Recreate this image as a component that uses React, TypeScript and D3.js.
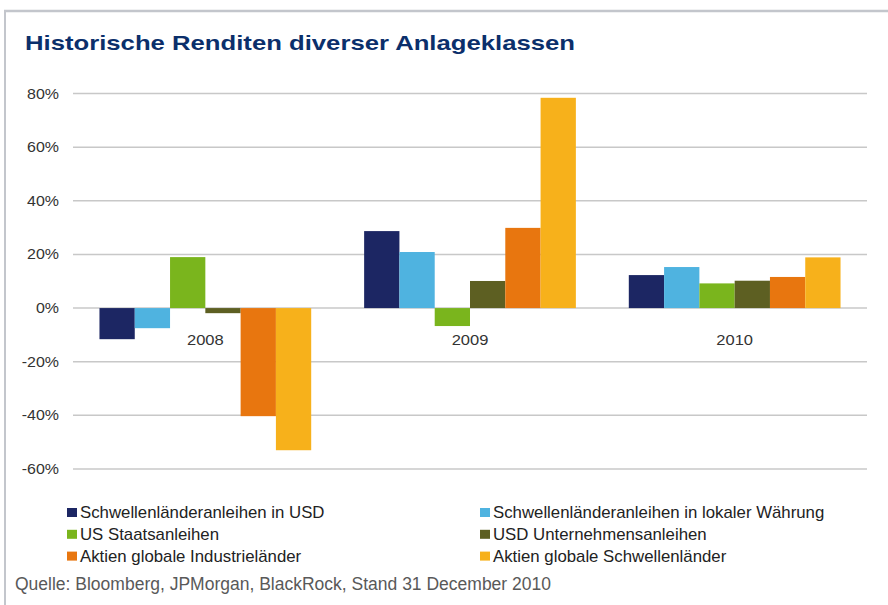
import * as d3 from 'd3';

const years = ['2008', '2009', '2010'];
const seriesNames = [
  'Schwellenländeranleihen in USD',
  'Schwellenländeranleihen in lokaler Währung',
  'US Staatsanleihen',
  'USD Unternehmensanleihen',
  'Aktien globale Industrieländer',
  'Aktien globale Schwellenländer',
];
const seriesColors = ['#1c2663', '#4fb3e0', '#7ab51d', '#5d5f22', '#e8760f', '#f7b11b'];
// values per series, one entry per year (percent)
const emUsd = [-11.6, 28.7, 12.3];
const emLocal = [-7.5, 20.9, 15.3];
const usTreasury = [19, -6.7, 9.2];
const usdCorporate = [-1.9, 10.1, 10.2];
const devEquity = [-40.3, 29.9, 11.6];
const emEquity = [-53, 78.4, 18.9];
const seriesValues = [emUsd, emLocal, usTreasury, usdCorporate, devEquity, emEquity];
const yTickValues = [80, 60, 40, 20, 0, -20, -40, -60];

export default function App() {
  const width = 888;
  const height = 605;
  const plot = { left: 73, right: 867, top: 93.5, bottom: 469 };

  const x0 = d3.scaleBand().domain(years).range([plot.left, plot.right]).paddingInner(0.2).paddingOuter(0.1);
  const x1 = d3.scaleBand().domain(seriesNames).range([0, x0.bandwidth()]);
  const y = d3.scaleLinear().domain([-60, 80]).range([plot.bottom, plot.top]);

  const font = 'Liberation Sans, Arial, sans-serif';

  return (
    <svg
      width={width}
      height={height}
      style={{ position: 'absolute', left: 0, top: 0, background: '#fff' }}
      fontFamily={font}
    >
      <rect x={0} y={0} width={width} height={height} fill="#fff" />
      <line x1={4} x2={width} y1={11} y2={11} stroke="#c3c6cc" strokeWidth={2.5} />
      <line x1={5} x2={5} y1={10} y2={height} stroke="#c3c6cc" strokeWidth={2} />

      <text
        x={25}
        y={50}
        fontSize={21}
        fontWeight="bold"
        fill="#0b2f6b"
        textLength={550}
        lengthAdjust="spacingAndGlyphs"
      >
        Historische Renditen diverser Anlageklassen
      </text>

      {yTickValues.map((t) => (
        <g key={t}>
          <line x1={plot.left} x2={plot.right} y1={y(t)} y2={y(t)} stroke="#c8c8c8" strokeWidth={1.5} />
          <text
            transform={`translate(59,${y(t) + 5}) scale(1.14,1)`}
            textAnchor="end"
            fontSize={14}
            fill="#333"
          >
            {t}%
          </text>
        </g>
      ))}

      {years.map((yr, yi) => (
        <g key={yr} transform={`translate(${x0(yr)},0)`}>
          {seriesNames.map((s, si) => {
            const v = seriesValues[si][yi];
            return (
              <rect
                key={s}
                x={x1(s)}
                y={y(Math.max(0, v))}
                width={x1.bandwidth()}
                height={Math.abs(y(v) - y(0))}
                fill={seriesColors[si]}
              />
            );
          })}
          <text
            transform={`translate(${x0.bandwidth() / 2},${y(0) + 37}) scale(1.18,1)`}
            textAnchor="middle"
            fontSize={14}
            fill="#333"
          >
            {yr}
          </text>
        </g>
      ))}

      {seriesNames.map((s, i) => {
        const col = i % 2;
        const row = Math.floor(i / 2);
        const lx = col === 0 ? 67 : 480;
        const ly = 512.5 + row * 21.8;
        return (
          <g key={s}>
            <rect x={lx} y={ly - 4.5} width={10} height={9} fill={seriesColors[i]} />
            <text transform={`translate(${lx + 13},${ly + 5.5}) scale(1.05,1)`} fontSize={16} fill="#222">
              {s}
            </text>
          </g>
        );
      })}

      <text x={15} y={590} fontSize={17.5} fill="#595959">
        Quelle: Bloomberg, JPMorgan, BlackRock, Stand 31 December 2010
      </text>
    </svg>
  );
}
